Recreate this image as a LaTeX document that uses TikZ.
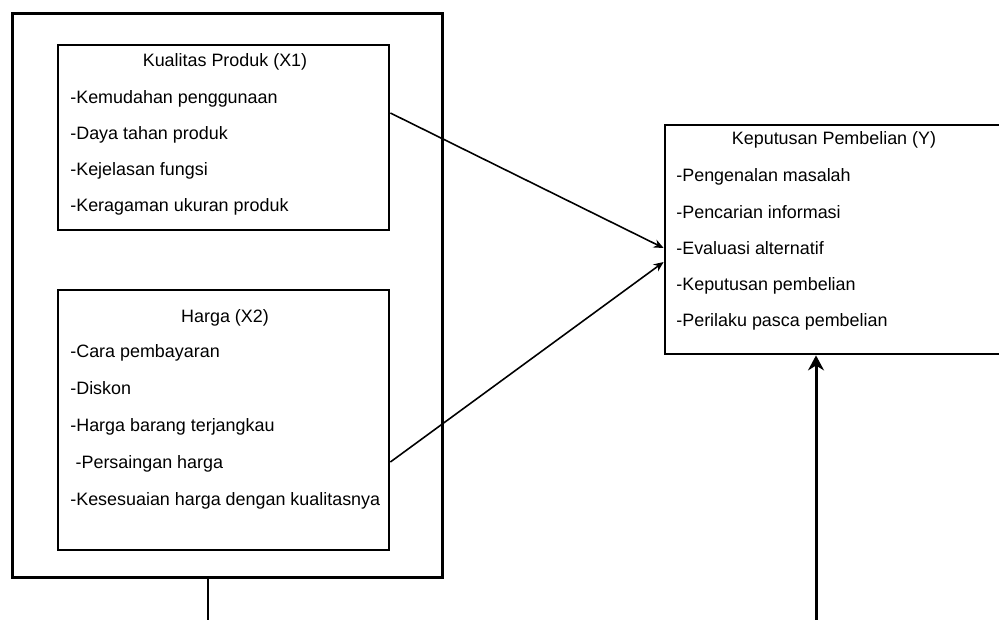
\documentclass[tikz,border=0pt]{standalone}
\usepackage{fontspec}
\setmainfont{Liberation Sans}
\usetikzlibrary{arrows.meta, positioning}

\begin{document}
\begin{tikzpicture}[
        x=0.02cm, y=-0.02cm,
        kotak/.style = {rectangle, draw, line width=1.6pt, inner sep=0pt},
        butir/.style = {anchor=west, inner sep=0pt, text height=7.5pt, text depth=2pt},
        pil/.style = {black, line width=0.9pt, -{Stealth[length=0.2cm, width=0.17cm]}},
        font=\fontsize{10.2}{12}\selectfont
        ]

        \clip (0,0) rectangle (999,619);

        \node[kotak, line width=1.7pt, minimum width=8.62cm, minimum height=11.3cm] (luar) at (227.5,295.5) {};
        \node[kotak, minimum width=6.62cm, minimum height=3.7cm] (X1) at (223.5,137.5) {};
        \node[kotak, minimum width=6.62cm, minimum height=5.2cm] (X2) at (223.5,420) {};
        \node[kotak, minimum width=7.7cm, minimum height=4.58cm] (Y) at (857.5,239.5) {};

        \node[butir, anchor=center] (judulX1) at (225,62) {Kualitas Produk (X1)};
        \node[butir, anchor=center] (judulX2) at (225,318) {Harga (X2)};
        \node[butir, anchor=center] (judulY) at (834,140) {Keputusan Pembelian (Y)};

        \foreach \t [count=\i] in {-Kemudahan penggunaan, -Daya tahan produk, -Kejelasan fungsi, -Keragaman ukuran produk}
          \node[butir] (x1\i) at (70,{99+36*(\i-1)}) {\t};
        \foreach \t [count=\i] in {-Cara pembayaran, -Diskon, -Harga barang terjangkau, \hspace{3pt}-Persaingan harga, -Kesesuaian harga dengan kualitasnya}
          \node[butir] (x2\i) at (70,{353+37*(\i-1)}) {\t};
        \foreach \t [count=\i] in {-Pengenalan masalah, -Pencarian informasi, -Evaluasi alternatif, -Keputusan pembelian, -Perilaku pasca pembelian}
          \node[butir] (y\i) at (676,{177+36.2*(\i-1)}) {\t};

        \coordinate (kiri) at (208,650);
        \coordinate (kanan) at (816,650);

        \draw[pil] ([yshift=0.49cm]X1.east) -- ([yshift=-0.17cm]Y.west);
        \draw[pil] ([yshift=-0.84cm]X2.east) -- ([yshift=-0.45cm]Y.west);
        \draw[line width=1.7pt, -{Stealth[length=0.3cm, width=0.32cm]}]
          (luar.south -| kiri) -- (kiri) -- (kanan) -- (Y.south -| kanan);

      \end{tikzpicture}
\end{document}
